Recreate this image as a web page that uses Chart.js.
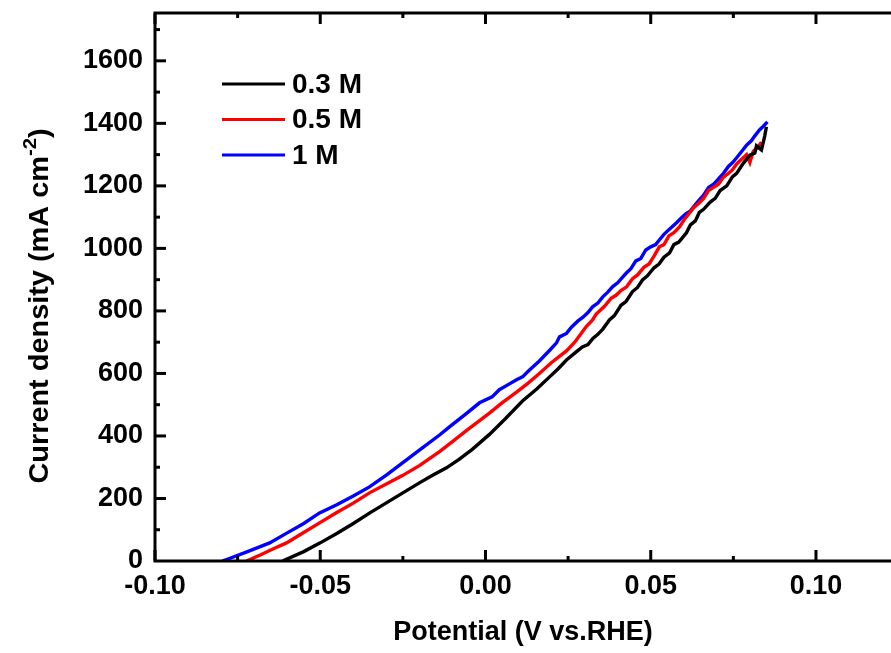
<!DOCTYPE html>
<html>
<head>
<meta charset="utf-8">
<script src="https://cdn.jsdelivr.net/npm/chart.js@4.4.1/dist/chart.umd.min.js"></script>
<style>
  html, body { margin: 0; padding: 0; background: #fff; }
  canvas { display: block; }
</style>
</head>
<body>
<canvas id="lsvChart" width="891" height="653"></canvas>
<script>
// series labels and colours
var seriesLabels = ['0.3 M', '0.5 M', '1 M'];
var seriesColors = ['#000000', '#FF0000', '#0000FF'];

// 0.3 M  (potential V vs RHE, current density mA cm-2)
var x03 = [-0.0614, -0.055, -0.050, -0.045, -0.040, -0.035, -0.030, -0.025, -0.020, -0.016, -0.0118, -0.008, -0.004, 0.0012, 0.006, 0.0112, 0.0155, 0.0194, 0.022, 0.0245, 0.027, 0.0293,
           0.031, 0.0325, 0.034, 0.0355, 0.0375, 0.039, 0.041, 0.0425, 0.0445, 0.046, 0.0475, 0.049, 0.051, 0.0525, 0.054, 0.0557, 0.057, 0.0585, 0.0608, 0.062,
           0.0635, 0.0647, 0.066, 0.068, 0.0695, 0.071, 0.073, 0.0747, 0.076, 0.078, 0.080, 0.0815, 0.082, 0.0835, 0.0845, 0.085];
var j03 = [0, 30, 58, 88, 120, 154, 186, 218, 250, 274, 298, 325, 357, 405, 455, 512, 550, 589, 615, 643, 665, 685,
           692, 712, 725, 742, 771, 785, 818, 830, 862, 875, 899, 912, 938, 950, 972, 986, 1012, 1020, 1050, 1075,
           1088, 1115, 1125, 1148, 1160, 1185, 1200, 1229, 1240, 1272, 1298, 1305, 1328, 1315, 1360, 1389];

// 0.5 M
var x05 = [-0.0723, -0.068, -0.064, -0.0602, -0.056, -0.0502, -0.045, -0.040, -0.0351, -0.030, -0.025, -0.020, -0.0139, -0.010, -0.0057, 0.0012, 0.005, 0.0094, 0.013, 0.0163,
           0.020, 0.0245, 0.027, 0.0305, 0.0324, 0.0335, 0.0345, 0.036, 0.038, 0.0395, 0.041, 0.0427, 0.0445, 0.046, 0.048, 0.0495, 0.051, 0.0526, 0.054, 0.0555,
           0.057, 0.0587, 0.060, 0.0615, 0.063, 0.0647, 0.066, 0.0675, 0.069, 0.0705, 0.072, 0.0735, 0.0747, 0.076, 0.0775, 0.079, 0.080, 0.081, 0.0825, 0.0835];
var j05 = [0, 20, 40, 58, 85, 122, 155, 185, 218, 246, 274, 305, 350, 382, 418, 473, 506, 540, 570, 600,
           635, 672, 700, 750, 771, 790, 800, 815, 840, 850, 865, 877, 903, 915, 940, 950, 975, 1005, 1012, 1040,
           1050, 1069, 1090, 1110, 1130, 1146, 1160, 1185, 1195, 1205, 1228, 1240, 1251, 1270, 1285, 1300, 1275, 1310, 1325, 1340];

// 1 M
var x1 = [-0.0796, -0.0775, -0.072, -0.0653, -0.060, -0.055, -0.0502, -0.045, -0.040, -0.0351, -0.030, -0.0251, -0.020, -0.0139, -0.0109, -0.006, -0.0018, 0.002, 0.0042, 0.007,
          0.0094, 0.0112, 0.013, 0.0163, 0.0195, 0.0215, 0.0224, 0.0245, 0.026, 0.028, 0.0295, 0.031, 0.0324, 0.034, 0.0355, 0.037, 0.0385, 0.040, 0.0415, 0.0427,
          0.044, 0.0455, 0.047, 0.0485, 0.050, 0.0515, 0.0526, 0.054, 0.0555, 0.0578, 0.059, 0.0605, 0.062, 0.0635, 0.0647, 0.066, 0.0675, 0.069, 0.0705, 0.072,
          0.0735, 0.0747, 0.076, 0.0775, 0.079, 0.0805, 0.0815, 0.0829, 0.084, 0.0853];
var j1 = [0, 8, 30, 58, 90, 120, 154, 180, 208, 237, 275, 314, 355, 403, 429, 470, 506, 525, 548, 565,
          580, 589, 608, 640, 675, 698, 717, 728, 748, 768, 780, 795, 813, 825, 845, 860, 878, 890, 908, 922,
          935, 960, 968, 995, 1005, 1012, 1027, 1045, 1060, 1082, 1095, 1110, 1120, 1140, 1155, 1170, 1195, 1205, 1222, 1240,
          1262, 1274, 1290, 1310, 1330, 1345, 1360, 1379, 1390, 1405];

// axis ticks
var xTicks = [-0.10, -0.05, 0.00, 0.05, 0.10];
var xMinor = [-0.075, -0.025, 0.025, 0.075];
var yTicks = [0, 200, 400, 600, 800, 1000, 1200, 1400, 1600];
var yMinor = [100, 300, 500, 700, 900, 1100, 1300, 1500, 1700];

function toPoints(xs, ys) {
    return xs.map(function(x, i) { return { x: x, y: ys[i] }; });
}

var allX = [x03, x05, x1];
var allJ = [j03, j05, j1];
var datasets = seriesLabels.map(function(label, i) {
    return {
        label: label,
        data: toPoints(allX[i], allJ[i]),
        borderColor: seriesColors[i],
        backgroundColor: seriesColors[i],
        borderWidth: 3.4,
        pointRadius: 0,
        tension: 0,
        fill: false
    };
});

var tickFont = { family: '"Liberation Sans", Arial, sans-serif', size: 27, weight: 'bold', lineHeight: 0.9 };

// frame, inward ticks, legend and y title
var framePlugin = {
    id: 'frame',
    afterDatasetsDraw: function(chart) {
        var ctx = chart.ctx;
        var a = chart.chartArea;
        var xs = chart.scales.x, ys = chart.scales.y;
        ctx.save();
        ctx.strokeStyle = '#000';
        ctx.lineWidth = 3;
        ctx.lineCap = 'butt';
        ctx.beginPath();
        ctx.moveTo(a.right + 2, a.top);
        ctx.lineTo(a.left, a.top);
        ctx.lineTo(a.left, a.bottom);
        ctx.lineTo(a.right + 2, a.bottom);
        ctx.stroke();

        function xTick(v, len) {
            var px = xs.getPixelForValue(v);
            ctx.beginPath();
            ctx.moveTo(px, a.bottom); ctx.lineTo(px, a.bottom - len);
            ctx.moveTo(px, a.top); ctx.lineTo(px, a.top + len);
            ctx.stroke();
        }
        function yTick(v, len) {
            var py = ys.getPixelForValue(v);
            ctx.beginPath();
            ctx.moveTo(a.left, py); ctx.lineTo(a.left + len, py);
            ctx.stroke();
        }
        xTicks.forEach(function(v) { xTick(v, 11); });
        xMinor.forEach(function(v) { xTick(v, 5); });
        yTicks.forEach(function(v) { if (v > 0) yTick(v, 11); });
        yMinor.forEach(function(v) { yTick(v, 5); });

        // legend
        ctx.font = 'bold 28px "Liberation Sans", Arial, sans-serif';
        ctx.textBaseline = 'middle';
        ctx.textAlign = 'left';
        chart.data.datasets.forEach(function(ds, i) {
            var y = 84 + i * 35.5;
            ctx.strokeStyle = ds.borderColor;
            ctx.lineWidth = 3;
            ctx.beginPath();
            ctx.moveTo(222, y); ctx.lineTo(285, y);
            ctx.stroke();
            ctx.fillStyle = '#000';
            ctx.fillText(ds.label, 292, y + 1);
        });

        // y axis title with superscript
        ctx.translate(41, 306);
        ctx.rotate(-Math.PI / 2);
        ctx.scale(1.07, 1);
        var main = 'Current density (mA cm';
        var sup = '-2';
        var close = ')';
        ctx.font = 'bold 27px "Liberation Sans", Arial, sans-serif';
        var wMain = ctx.measureText(main).width;
        var wClose = ctx.measureText(close).width;
        ctx.font = 'bold 19px "Liberation Sans", Arial, sans-serif';
        var wSup = ctx.measureText(sup).width;
        var start = -(wMain + wSup + wClose) / 2;
        ctx.fillStyle = '#000';
        ctx.font = 'bold 27px "Liberation Sans", Arial, sans-serif';
        ctx.fillText(main, start, 0);
        ctx.fillText(close, start + wMain + wSup, 0);
        ctx.font = 'bold 19px "Liberation Sans", Arial, sans-serif';
        ctx.fillText(sup, start + wMain, -10);
        ctx.restore();
    }
};

new Chart(document.getElementById('lsvChart'), {
    type: 'line',
    data: { datasets: datasets },
    plugins: [framePlugin],
    options: {
        responsive: false,
        animation: false,
        layout: { padding: { top: 13, left: 0, right: 0, bottom: 0 } },
        plugins: {
            legend: { display: false },
            tooltip: { enabled: false }
        },
        scales: {
            x: {
                type: 'linear',
                min: -0.1,
                max: 0.1227,
                afterBuildTicks: function(s) { s.ticks = xTicks.map(function(v) { return { value: v }; }); },
                afterFit: function(s) { s.height = 92; s.paddingLeft = 0; s.paddingRight = 0; },
                grid: { display: false, drawTicks: false },
                border: { display: false },
                ticks: {
                    autoSkip: false, maxRotation: 0, padding: 13, color: '#000', font: tickFont,
                    callback: function(v) { return v.toFixed(2); }
                },
                title: {
                    display: true, text: 'Potential (V vs.RHE)', color: '#000',
                    font: { family: '"Liberation Sans", Arial, sans-serif', size: 27, weight: 'bold' },
                    padding: { top: 0, bottom: 4 }
                }
            },
            y: {
                type: 'linear',
                min: 0,
                max: 1753,
                afterBuildTicks: function(s) { s.ticks = yTicks.map(function(v) { return { value: v }; }); },
                afterFit: function(s) { s.width = 155; s.paddingTop = 0; s.paddingBottom = 0; },
                grid: { display: false, drawTicks: false },
                border: { display: false },
                ticks: {
                    padding: 12, color: '#000', font: tickFont,
                    callback: function(v) { return String(v); }
                }
            }
        }
    }
});
</script>
</body>
</html>
